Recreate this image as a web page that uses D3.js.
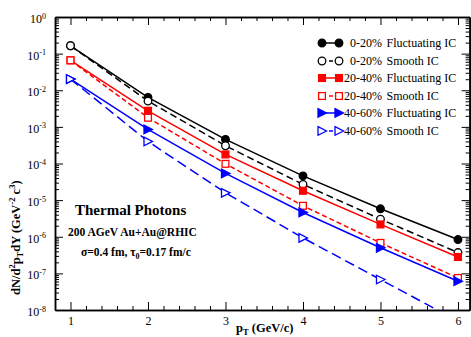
<!DOCTYPE html>
<html><head><meta charset="utf-8">
<script src="https://cdn.jsdelivr.net/npm/d3@7"></script>
<style>body{margin:0;background:#fff}svg{display:block}text{font-family:"Liberation Serif","Times New Roman",serif}</style>
</head><body><svg id="c" width="471" height="337"></svg>
<script>
const pT = [1, 2, 3, 4, 5, 6];
const fluct0020 = [0.164, 6.4e-3, 4.55e-4, 4.6e-5, 5.8e-6, 8.4e-7];
const smooth0020 = [0.164, 5.07e-3, 3.05e-4, 2.7e-5, 3.03e-6, 3.7e-7];
const fluct2040 = [0.0656, 2.75e-3, 1.77e-4, 1.8e-5, 2.17e-6, 2.8e-7];
const smooth2040 = [0.0656, 1.78e-3, 9.8e-5, 7.0e-6, 6.8e-7, 7.5e-8];
const fluct4060 = [0.0202, 8.5e-4, 5.37e-5, 4.6e-6, 5.0e-7, 6.1e-8];
const smooth4060 = [0.0202, 4.0e-4, 1.58e-5, 9.3e-7, 6.8e-8, 5.0e-9];
const xTicks = [1, 2, 3, 4, 5, 6];
const yTickExps = [0, -1, -2, -3, -4, -5, -6, -7, -8];
const seriesNames = ["0-20% Fluctuating IC", "0-20% Smooth IC", "20-40% Fluctuating IC", "20-40% Smooth IC", "40-60% Fluctuating IC", "40-60% Smooth IC"];

const series = [
  {name: seriesNames[0], v: fluct0020, color: "#000", sym: "circle", fill: true, dash: null},
  {name: seriesNames[1], v: smooth0020, color: "#000", sym: "circle", fill: false, dash: "7,4"},
  {name: seriesNames[2], v: fluct2040, color: "#ff0000", sym: "square", fill: true, dash: null},
  {name: seriesNames[3], v: smooth2040, color: "#ff0000", sym: "square", fill: false, dash: "5,3"},
  {name: seriesNames[4], v: fluct4060, color: "#0000ff", sym: "tri", fill: true, dash: null},
  {name: seriesNames[5], v: smooth4060, color: "#0000ff", sym: "tri", fill: false, dash: "10,5"}
];

const L = 55, R = 469.6, T = 17, B = 310;
const x = d3.scaleLinear().domain([0.8, 6.15]).range([L, R]);
const y = d3.scaleLog().domain([1e-8, 1]).range([B, T]);
const svg = d3.select("#c");

svg.append("defs").append("clipPath").attr("id", "clip")
  .append("rect").attr("x", L).attr("y", T).attr("width", R - L).attr("height", B - T);

const xMinor = d3.range(0.8, 6.151, 0.2).map(v => +v.toFixed(2)).filter(v => !xTicks.includes(v));
const yMinor = [];
for (let e = -8; e < 0; e++) for (let k = 2; k <= 9; k++) yMinor.push(k * Math.pow(10, e));

function axisStyle(g) {
  g.select(".domain").attr("stroke", "#000").attr("stroke-width", 1.5);
  g.selectAll(".tick line").attr("stroke", "#000").attr("stroke-width", 1);
}

svg.append("g").attr("transform", `translate(0,${B})`)
  .call(d3.axisBottom(x).tickValues(xMinor).tickSize(-4).tickFormat("").tickSizeOuter(0)).call(axisStyle);
const gb = svg.append("g").attr("transform", `translate(0,${B})`)
  .call(d3.axisBottom(x).tickValues(xTicks).tickSize(-8).tickPadding(6).tickFormat(d3.format("d")).tickSizeOuter(0)).call(axisStyle);
gb.selectAll("text").attr("font-size", 12).attr("fill", "#000").attr("dy", "0.75em");
svg.append("g").attr("transform", `translate(0,${T})`)
  .call(d3.axisTop(x).tickValues(xMinor).tickSize(-4).tickFormat("").tickSizeOuter(0)).call(axisStyle);
svg.append("g").attr("transform", `translate(0,${T})`)
  .call(d3.axisTop(x).tickValues(xTicks).tickSize(-8).tickFormat("").tickSizeOuter(0)).call(axisStyle);
svg.append("g").attr("transform", `translate(${L},0)`)
  .call(d3.axisLeft(y).tickValues(yMinor).tickSize(-4).tickFormat("").tickSizeOuter(0)).call(axisStyle);
const gl = svg.append("g").attr("transform", `translate(${L},0)`)
  .call(d3.axisLeft(y).tickValues(yTickExps.map(e => Math.pow(10, e))).tickSize(-8).tickPadding(6).tickFormat("").tickSizeOuter(0)).call(axisStyle);
gl.selectAll(".tick").each(function(d) {
  const t = d3.select(this).select("text").attr("font-size", 12).attr("fill", "#000").attr("dy", "0.45em").attr("x", -9);
  t.text(null);
  t.append("tspan").text("10");
  t.append("tspan").attr("dy", "-0.55em").attr("font-size", 8).text(Math.round(Math.log10(d)));
});
svg.append("g").attr("transform", `translate(${R},0)`)
  .call(d3.axisRight(y).tickValues(yMinor).tickSize(-4).tickFormat("").tickSizeOuter(0)).call(axisStyle);
svg.append("g").attr("transform", `translate(${R},0)`)
  .call(d3.axisRight(y).tickValues(yTickExps.map(e => Math.pow(10, e))).tickSize(-8).tickFormat("").tickSizeOuter(0)).call(axisStyle);

function drawSym(g, s, cx, cy) {
  const fill = s.fill ? s.color : "#fff";
  if (s.sym === "circle") {
    g.append("circle").attr("cx", cx).attr("cy", cy).attr("r", 3.8)
      .attr("fill", fill).attr("stroke", s.color).attr("stroke-width", 1.3);
  } else if (s.sym === "square") {
    g.append("rect").attr("x", cx - 3.4).attr("y", cy - 3.4).attr("width", 6.8).attr("height", 6.8)
      .attr("fill", fill).attr("stroke", s.color).attr("stroke-width", 1.3);
  } else {
    g.append("path").attr("d", `M${cx - 4},${cy - 4.3}L${cx + 4.5},${cy}L${cx - 4},${cy + 4.3}Z`)
      .attr("fill", fill).attr("stroke", s.color).attr("stroke-width", 1.3);
  }
}

const plot = svg.append("g").attr("clip-path", "url(#clip)");
const line = d3.line().x((d, i) => x(pT[i])).y(d => y(d));
series.forEach(s => {
  plot.append("path").datum(s.v).attr("d", line).attr("fill", "none")
    .attr("stroke", s.color).attr("stroke-width", 1.5)
    .attr("stroke-dasharray", s.dash);
});
series.forEach(s => {
  const g = plot.append("g");
  s.v.forEach((v, i) => drawSym(g, s, x(pT[i]), y(v)));
});

const legY = [43, 61, 78, 96, 113, 131];
series.forEach((s, i) => {
  const g = svg.append("g");
  const yy = legY[i];
  g.append("line").attr("x1", 322).attr("x2", 339).attr("y1", yy).attr("y2", yy)
    .attr("stroke", s.color).attr("stroke-width", 1.5).attr("stroke-dasharray", s.dash ? "4,3" : null);
  drawSym(g, s, 322, yy);
  drawSym(g, s, 339, yy);
  const parts = s.name.split(" ");
  g.append("text").attr("x", 382).attr("y", yy + 4).attr("text-anchor", "end").attr("font-size", 12).text(parts[0]);
  g.append("text").attr("x", 386.5).attr("y", yy + 4).attr("font-size", 12).text(parts.slice(1).join(" "));
});

svg.append("text").attr("x", 75).attr("y", 215).attr("font-size", 15).attr("font-weight", "bold").text("Thermal Photons");
svg.append("text").attr("x", 68).attr("y", 236).attr("font-size", 11.5).attr("font-weight", "bold").text("200 AGeV Au+Au@RHIC");
const ann = svg.append("text").attr("x", 81).attr("y", 256).attr("font-size", 11.5).attr("font-weight", "bold");
ann.append("tspan").text("σ=0.4 fm, τ");
ann.append("tspan").attr("dy", 3).attr("font-size", 8).text("0");
ann.append("tspan").attr("dy", -3).text("=0.17 fm/c");

const xl = svg.append("text").attr("x", 236).attr("y", 332).attr("font-size", 12.5).attr("font-weight", "bold");
xl.append("tspan").text("p");
xl.append("tspan").attr("dy", 3).attr("font-size", 8.5).text("T");
xl.append("tspan").attr("dy", -3).text(" (GeV/c)");

const yl = svg.append("text").attr("transform", "translate(20,295) rotate(-90)").attr("font-size", 12.5).attr("font-weight", "bold");
yl.append("tspan").text("dN/d");
yl.append("tspan").attr("dy", -5).attr("font-size", 8.5).text("2");
yl.append("tspan").attr("dy", 5).text("p");
yl.append("tspan").attr("dy", 3).attr("font-size", 8.5).text("T");
yl.append("tspan").attr("dy", -3).text("dY  (GeV");
yl.append("tspan").attr("dy", -5).attr("font-size", 8.5).text("-2");
yl.append("tspan").attr("dy", 5).text(" c");
yl.append("tspan").attr("dy", -5).attr("font-size", 8.5).text("3");
yl.append("tspan").attr("dy", 5).text(")");
</script></body></html>
